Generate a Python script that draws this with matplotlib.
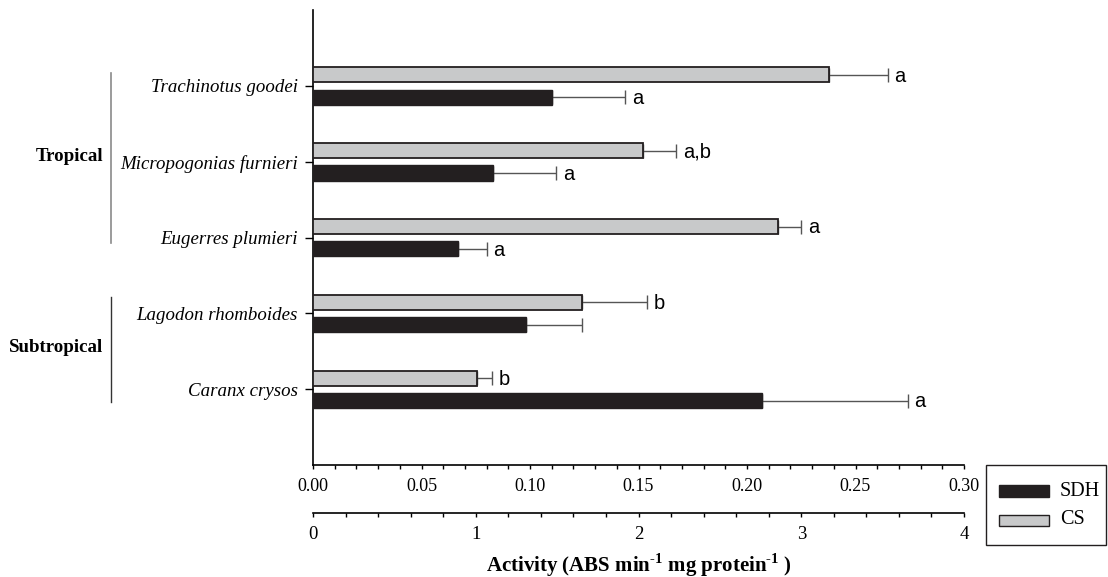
import numpy as np
import matplotlib.pyplot as plt
from matplotlib.lines import Line2D
from matplotlib.patches import Rectangle

# species, top to bottom
species = ["Trachinotus goodei", "Micropogonias furnieri", "Eugerres plumieri",
           "Lagodon rhomboides", "Caranx crysos"]

# SDH on the 0-0.30 scale, CS on the 0-4 scale
sdh = [0.110, 0.083, 0.067, 0.098, 0.207]
sdh_err = [0.034, 0.029, 0.013, 0.026, 0.067]
cs = [3.17, 2.03, 2.86, 1.65, 1.01]
cs_err = [0.36, 0.20, 0.14, 0.40, 0.09]

sdh_letters = ["a", "a", "a", "", "a"]
cs_letters = ["a", "a,b", "a", "b", "b"]

plt.rcParams['font.family'] = ['Liberation Serif', 'DejaVu Serif']
plt.rcParams['mathtext.fontset'] = 'custom'
plt.rcParams['mathtext.rm'] = 'Liberation Serif:bold'
plt.rcParams['mathtext.bf'] = 'Liberation Serif:bold'

letter_font = ['Liberation Sans Narrow', 'Liberation Sans']
SDH_COL = "#231f20"
CS_COL = "#c8c9ca"

W, H = 1108, 577
fig = plt.figure(figsize=(W / 100, H / 100), dpi=100)
ax = fig.add_axes([313 / W, 1 - 465 / H, (964 - 313) / W, (465 - 10) / H])

y = np.arange(len(species))

# SDH bars on the main axis
ax.barh(y + 0.15, sdh, height=0.2, color=SDH_COL, edgecolor=SDH_COL, zorder=3)
ax.errorbar(sdh, y + 0.15, xerr=[np.zeros(len(sdh)), sdh_err], fmt="none",
            ecolor="#555555", elinewidth=1.0, capsize=4.8, capthick=1.0, zorder=2)
for i, (v, e, t) in enumerate(zip(sdh, sdh_err, sdh_letters)):
    ax.annotate(t, (v + e, y[i] + 0.15), xytext=(5, -1), textcoords="offset points",
                ha="left", va="center", fontsize=14.5, family=letter_font)

ax.set_xlim(0, 0.30)
ax.set_ylim(5, -1)
ax.set_xticks(np.arange(0, 0.301, 0.05))
ax.set_xticks(np.arange(0, 0.301, 0.01), minor=True)
ax.set_xticklabels(["%.2f" % v for v in np.arange(0, 0.301, 0.05)], fontsize=13)
ax.set_yticks(y)
ax.set_yticklabels(species, fontsize=13.6, style="italic")
ax.tick_params(axis="x", which="both", direction="out", length=3.2, width=1, pad=6)
ax.tick_params(axis="y", direction="out", length=6, width=1, pad=5)
for s in ["top", "right"]:
    ax.spines[s].set_visible(False)
ax.spines["left"].set_linewidth(1.2)
ax.spines["bottom"].set_linewidth(1.2)

# CS bars on a second x scale below
ax2 = ax.twiny()
ax2.barh(y - 0.145, cs, height=0.2, color=CS_COL, edgecolor=SDH_COL, linewidth=1.3, zorder=3)
ax2.errorbar(cs, y - 0.145, xerr=[np.zeros(len(cs)), cs_err], fmt="none",
             ecolor="#555555", elinewidth=1.0, capsize=4.8, capthick=1.0, zorder=2)
for i, (v, e, t) in enumerate(zip(cs, cs_err, cs_letters)):
    ax2.annotate(t, (v + e, y[i] - 0.145), xytext=(5, -1), textcoords="offset points",
                 ha="left", va="center", fontsize=14.5, family=letter_font)
ax2.set_xlim(0, 4)
ax2.set_ylim(5, -1)
ax2.xaxis.set_ticks_position("bottom")
ax2.xaxis.set_label_position("bottom")
ax2.spines["bottom"].set_position(("outward", 34.6))
for s in ["top", "right", "left"]:
    ax2.spines[s].set_visible(False)
ax2.spines["bottom"].set_linewidth(1.2)
ax2.set_xticks(np.arange(0, 5, 1))
ax2.set_xticks(np.arange(0, 4.01, 0.2), minor=True)
ax2.set_xticklabels([str(v) for v in range(5)], fontsize=13.5)
ax2.tick_params(axis="x", which="both", direction="out", length=3.2, width=1, pad=6)
ax2.set_xlabel(r"Activity (ABS min$^{\text{-1}}$ mg protein$^{\text{-1}}$ )",
               fontsize=15, fontweight="bold", labelpad=6)

# group labels
fig.text(103 / W, 1 - 157 / H, "Tropical", ha="right", va="center",
         fontsize=13.6, fontweight="bold")
fig.text(103 / W, 1 - 347 / H, "Subtropical", ha="right", va="center",
         fontsize=13.6, fontweight="bold")
fig.add_artist(Line2D([111 / W, 111 / W], [1 - 73 / H, 1 - 243 / H],
                      color="#8a8a8a", lw=1.2))
fig.add_artist(Line2D([111 / W, 111 / W], [1 - 297 / H, 1 - 402 / H],
                      color="#333333", lw=1.0))

# legend box drawn by hand
fig.add_artist(Rectangle((986 / W, 1 - 545 / H), 120 / W, 80 / H, transform=fig.transFigure,
                         facecolor="white", edgecolor=SDH_COL, lw=1.0))
fig.add_artist(Rectangle((999 / W, 1 - 497 / H), 50 / W, 12 / H, transform=fig.transFigure,
                         facecolor=SDH_COL, edgecolor=SDH_COL, lw=1.0))
fig.add_artist(Rectangle((999 / W, 1 - 526 / H), 50 / W, 11 / H, transform=fig.transFigure,
                         facecolor=CS_COL, edgecolor=SDH_COL, lw=1.0))
fig.text(1060 / W, 1 - 491 / H, "SDH", ha="left", va="center", fontsize=14.5)
fig.text(1060 / W, 1 - 520 / H, "CS", ha="left", va="center", fontsize=14.5)

fig.savefig("out.png", dpi=100)
